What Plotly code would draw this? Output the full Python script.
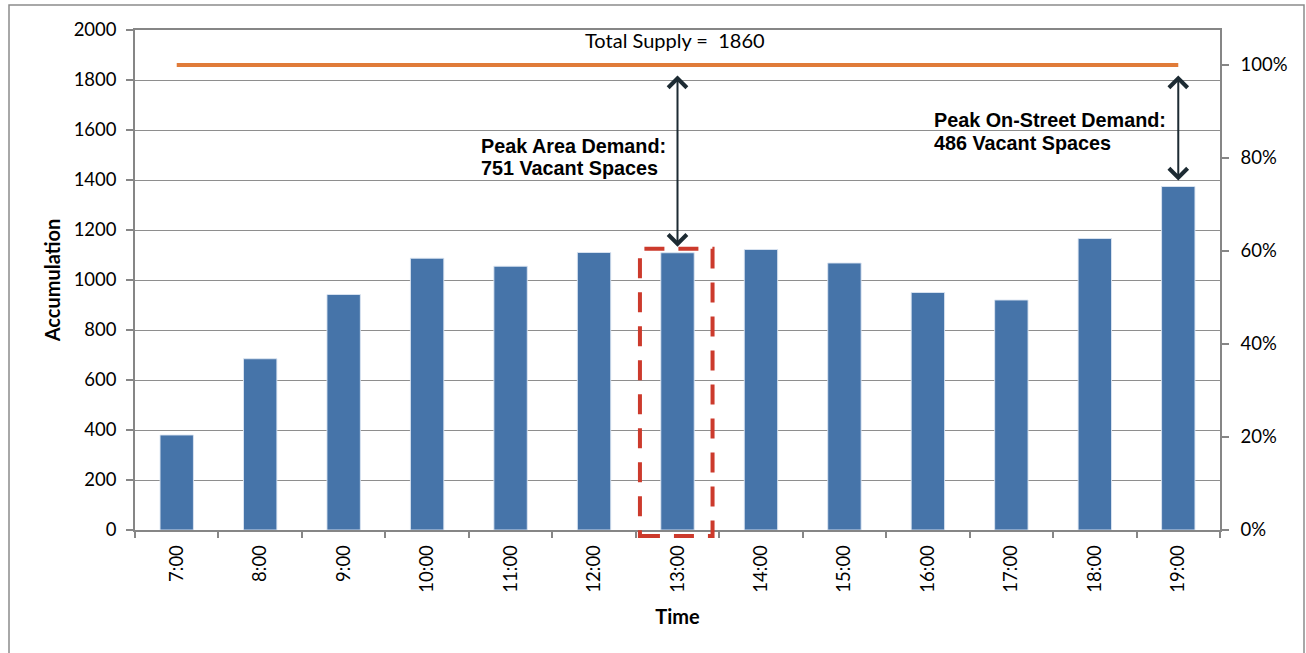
import plotly.graph_objects as go

# Hourly parking accumulation
times = ["7:00", "8:00", "9:00", "10:00", "11:00", "12:00", "13:00",
         "14:00", "15:00", "16:00", "17:00", "18:00", "19:00"]
accumulation = [380, 685, 942, 1087, 1055, 1110, 1109, 1122, 1068, 950, 920, 1166, 1374]
total_supply = 1860

left_ticks = [0, 200, 400, 600, 800, 1000, 1200, 1400, 1600, 1800, 2000]
pct_ticks = [0, 0.2, 0.4, 0.6, 0.8, 1.0]
pct_labels = ["0%", "20%", "40%", "60%", "80%", "100%"]

# Peaks called out on the chart
area_peak_idx = 6     # 13:00
street_peak_idx = 12  # 19:00
area_vacant = total_supply - accumulation[area_peak_idx]
street_vacant = total_supply - accumulation[street_peak_idx]

W, H = 1306, 653
ML, MR, MT, MB = 135, 86, 30, 123
PW, PH = W - ML - MR, H - MT - MB

BAR = "#4674A9"
ORANGE = "#E07B39"
GRID = "#8E8E8E"
AXIS = "#868686"
ARROW = "#1D2B33"
RED = "#CC3A2C"
TICK_FONT = dict(family="Lato, Calibri, sans-serif", size=18.5, color="#000000")
TITLE_FONT = dict(family="Lato, Calibri, sans-serif", size=20, color="#000000")
BOLD_FONT = dict(family="Liberation Sans, Arial, sans-serif", size=19.8, color="#000000")

fig = go.Figure()

fig.add_trace(go.Bar(
    x=times, y=accumulation,
    marker=dict(color=BAR, line=dict(color="rgba(220,230,242,0.9)", width=1)),
    showlegend=False, hoverinfo="x+y",
))

fig.add_trace(go.Scatter(
    x=times, y=[total_supply] * len(times),
    mode="lines", line=dict(color=ORANGE, width=4),
    showlegend=False, hoverinfo="y",
))

# invisible trace so the percentage axis is drawn
fig.add_trace(go.Scatter(
    x=[times[0]], y=[0], yaxis="y2", mode="markers",
    marker=dict(opacity=0), showlegend=False, hoverinfo="skip",
))

fig.update_layout(
    width=W, height=H,
    margin=dict(l=ML, r=MR, t=MT, b=MB),
    paper_bgcolor="white", plot_bgcolor="white",
    bargap=0.6,
    xaxis=dict(
        type="category", range=[-0.5, len(times) - 0.5],
        showline=True, linecolor=AXIS, linewidth=1.5, mirror=True,
        ticks="outside", tickson="boundaries", ticklen=6, tickcolor=AXIS, tickwidth=1.5,
        tickangle=-90, tickfont=TICK_FONT, ticklabelstandoff=6,
        showgrid=False,
        title=dict(text="<b>Time</b>", font=TITLE_FONT, standoff=18),
    ),
    yaxis=dict(
        range=[0, 2000], tickvals=left_ticks,
        showline=True, linecolor=AXIS, linewidth=1.5,
        ticks="outside", ticklen=7, tickcolor=AXIS, tickwidth=1.5,
        tickfont=TICK_FONT, ticklabelstandoff=6,
        showgrid=True, gridcolor=GRID, gridwidth=1.2, zeroline=False,
        title=dict(text="<b>Accumulation</b>", font=TITLE_FONT, standoff=8),
    ),
    yaxis2=dict(
        overlaying="y", side="right",
        range=[0, 2000 / total_supply], tickvals=pct_ticks, ticktext=pct_labels,
        showline=True, linecolor=AXIS, linewidth=1.5,
        ticks="outside", ticklen=7, tickcolor=AXIS, tickwidth=1.5,
        tickfont=TICK_FONT, ticklabelstandoff=8,
        showgrid=False, zeroline=False,
    ),
)

# supply label above the orange line
fig.add_annotation(
    x=times[area_peak_idx], y=total_supply, xref="x", yref="y",
    text=f"Total Supply = &nbsp;{total_supply}", showarrow=False,
    font=TITLE_FONT,
    yshift=25, xshift=-3,
)

# double-headed arrows from the supply line down to each peak bar
for idx in (area_peak_idx, street_peak_idx):
    fig.add_annotation(
        x=idx, y=accumulation[idx], ax=idx, ay=total_supply,
        xref="x", yref="y", axref="x", ayref="y",
        text="", showarrow=True, arrowside="end+start",
        arrowhead=4, startarrowhead=4, arrowsize=1.8, startarrowsize=1.8,
        arrowwidth=2, arrowcolor=ARROW, standoff=6, startstandoff=9,
    )

# callout text
fig.add_annotation(
    x=(479 - ML) / PW, y=(MT + PH - 146) / PH, xref="paper", yref="paper",
    text="<b>Peak Area Demand:</b>", showarrow=False, xanchor="left", yanchor="middle",
    font=BOLD_FONT,
)
fig.add_annotation(
    x=(479 - ML) / PW, y=(MT + PH - 168) / PH, xref="paper", yref="paper",
    text=f"<b>{area_vacant} Vacant Spaces</b>", showarrow=False, xanchor="left", yanchor="middle",
    font=BOLD_FONT,
)
fig.add_annotation(
    x=(932 - ML) / PW, y=(MT + PH - 120) / PH, xref="paper", yref="paper",
    text="<b>Peak On-Street Demand:</b>", showarrow=False, xanchor="left", yanchor="middle",
    font=BOLD_FONT,
)
fig.add_annotation(
    x=(932 - ML) / PW, y=(MT + PH - 143) / PH, xref="paper", yref="paper",
    text=f"<b>{street_vacant} Vacant Spaces</b>", showarrow=False, xanchor="left", yanchor="middle",
    font=BOLD_FONT,
)

# dashed box highlighting the peak-area hour
fig.add_shape(
    type="rect", xref="x", yref="paper",
    x0=area_peak_idx - 0.45, x1=area_peak_idx + 0.42,
    y0=-6 / PH, y1=1125 / 2000,
    line=dict(color=RED, width=4, dash="20px,14px"),
    layer="above",
)

# outer chart frame
fig.add_shape(
    type="rect", xref="paper", yref="paper",
    x0=(9 - ML) / PW, x1=(1304 - ML) / PW,
    y0=-0.5, y1=(MT + PH - 5) / PH,
    line=dict(color="#8C8C8C", width=1.5),
    layer="below",
)

fig.write_html("out.html")
